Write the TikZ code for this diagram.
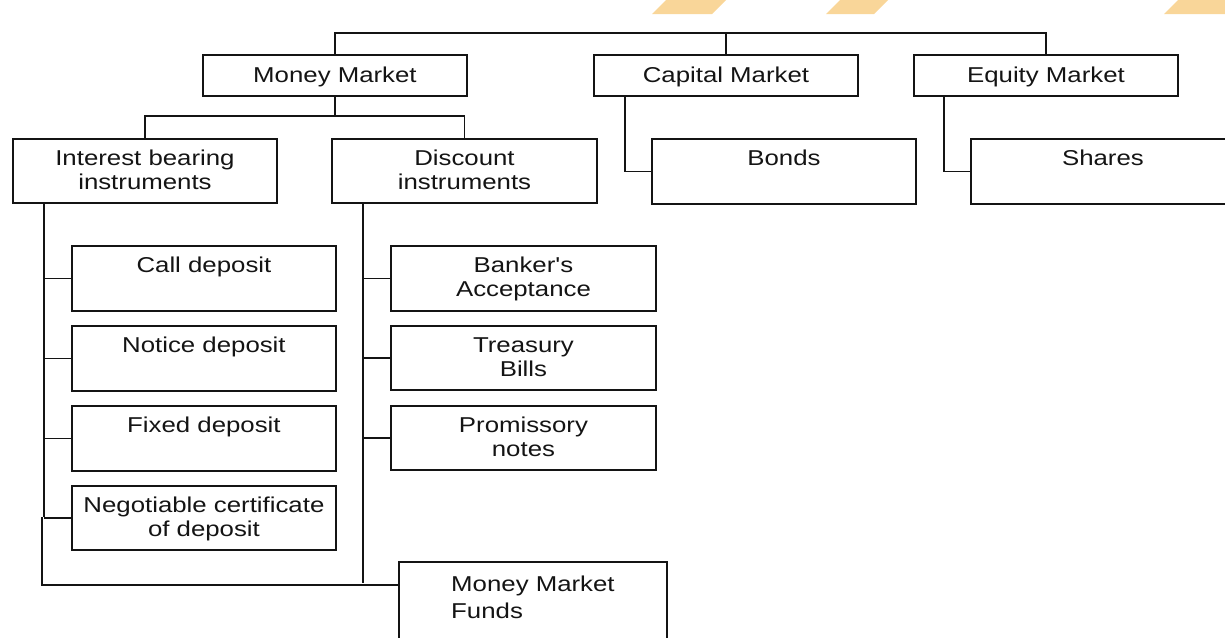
\documentclass[tikz,border=0pt]{standalone}
\usepackage{fontspec}
\newfontfamily\boxfont[FakeStretch=1.2]{Liberation Sans}
\usetikzlibrary{calc}
\definecolor{ink}{HTML}{141414}
\definecolor{stripe}{HTML}{F9D699}
% fixed first-line height so every label sits at the same depth in its box
\newcommand\topstrut{\rule{0pt}{27pt}}

\begin{document}
\begin{tikzpicture}[x=1pt,y=-1pt,
  box/.style={draw=ink, line width=1.9pt, rectangle, inner sep=0pt, anchor=north west},
  head/.style={box, minimum width=264pt, minimum height=41pt},
  wide/.style={box, minimum width=264pt, minimum height=65pt},
  txt/.style={font=\boxfont\fontsize{21.5}{24.5}\selectfont, align=center, anchor=north, inner sep=0pt, text=ink},
  link/.style={draw=ink, line width=1.7pt}
]
\clip (0,0) rectangle (1225,637);

% decorative stripes along the top edge
\fill[stripe] (652,14) -- (712,14) -- (726,0) -- (666,0) -- cycle;
\fill[stripe] (826,14) -- (874,14) -- (888,0) -- (840,0) -- cycle;
\fill[stripe] (1164,14) -- (1240,14) -- (1254,0) -- (1178,0) -- cycle;

% markets
\node[head] (mm)  at (202,54) {};
\node[head] (cap) at (593,54) {};
\node[head] (eq)  at (913,54) {};
\node[txt, yshift=-1pt] (mm-t)  at (mm.north)  {\topstrut Money Market};
\node[txt, yshift=-1pt] (cap-t) at (cap.north) {\topstrut Capital Market};
\node[txt, yshift=-1pt] (eq-t)  at (eq.north)  {\topstrut Equity Market};

% second level
\node[box, minimum width=264pt, minimum height=64pt] (int)  at (12,138) {};
\node[box, minimum width=265pt, minimum height=64pt] (disc) at (331,138) {};
\node[wide] (bonds)  at (651,138) {};
\node[wide] (shares) at (970,138) {};
\node[txt] (int-t)    at (int.north)    {\topstrut Interest bearing\\instruments};
\node[txt] (disc-t)   at (disc.north)   {\topstrut Discount\\instruments};
\node[txt] (bonds-t)  at (bonds.north)  {\topstrut Bonds};
\node[txt] (shares-t) at (shares.north) {\topstrut Shares};

% interest bearing instruments
\node[wide] (call)   at (71,245) {};
\node[wide] (notice) at (71,325) {};
\node[wide] (fixed)  at (71,405) {};
\node[box, minimum width=264pt, minimum height=64pt] (ncd) at (71,485) {};
\node[txt] (call-t)   at (call.north)   {\topstrut Call deposit};
\node[txt] (notice-t) at (notice.north) {\topstrut Notice deposit};
\node[txt] (fixed-t)  at (fixed.north)  {\topstrut Fixed deposit};
\node[txt] (ncd-t)    at (ncd.north)    {\topstrut Negotiable certificate\\of deposit};

% discount instruments
\node[box, minimum width=265pt, minimum height=65pt] (bank)  at (390,245) {};
\node[box, minimum width=265pt, minimum height=64pt] (treas) at (390,325) {};
\node[box, minimum width=265pt, minimum height=64pt] (prom)  at (390,405) {};
\node[txt] (bank-t)  at (bank.north)  {\topstrut Banker's\\Acceptance};
\node[txt] (treas-t) at (treas.north) {\topstrut Treasury\\Bills};
\node[txt] (prom-t)  at (prom.north)  {\topstrut Promissory\\notes};

% money market funds
\node[box, minimum width=268pt, minimum height=100pt] (funds) at (398,561) {};
\node[txt, align=left, yshift=-3pt] (funds-t) at (funds.north) {\topstrut Money Market\\[2.5pt]Funds};

% top bus
\coordinate (bus) at (0,33);
\draw[link] (mm.north) -- (mm.north |- bus) -| (eq.north);
\draw[link] (cap.north) -- (cap.north |- bus);

% money market split
\coordinate (sub) at (0,116);
\draw[link] (mm.south) -- (mm.south |- sub);
\draw[link] (int.north) -- (int.north |- sub) -| (disc.north);

% interest bearing spine
\coordinate (itop) at (44,202);
\coordinate (ibot) at (44,517);
\draw[link] (itop) -- (ibot);
\foreach \b in {call,notice,fixed,ncd}
  \draw[link] (\b.west) -- (\b.west -| itop);

% discount spine
\coordinate (dtop) at (363,202);
\coordinate (dbot) at (363,583);
\draw[link] (dtop) -- (dbot);
\foreach \b in {bank,treas,prom}
  \draw[link] (\b.west) -- (\b.west -| dtop);

% link to money market funds
\coordinate (fjoin) at (42,517);
\coordinate (fcorner) at (42,585);
\draw[link] (fjoin) -- (fcorner) -- (fcorner -| funds.west);

% capital and equity branches
\coordinate (ctop) at (625,95);
\coordinate (etop) at (944,95);
\draw[link] (ctop) |- (bonds.west);
\draw[link] (etop) |- (shares.west);
\end{tikzpicture}
\end{document}
